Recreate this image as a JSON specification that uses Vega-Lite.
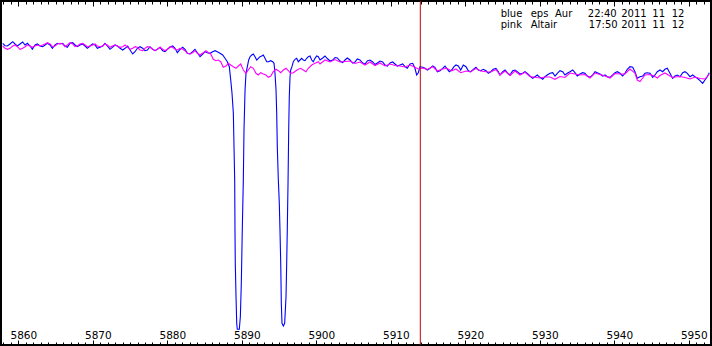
{
"$schema": "https://vega.github.io/schema/vega-lite/v6.json",
"width": 710, "height": 344, "autosize": "none", "padding": 1, "background": "white",
"config": {"view": {"stroke": "black", "strokeWidth": 2}, "axis": {"domain": false, "grid": false, "title": null}},
"datasets": {
"epsAur": [
{"w":5857.90,"f":301.7},{"w":5858.21,"f":299.3},{"w":5858.52,"f":299},{"w":5858.88,"f":301},{"w":5859.24,"f":303.3},{"w":5859.55,"f":301},{"w":5859.87,"f":299},{"w":5860.22,"f":301},{"w":5860.58,"f":303},{"w":5860.90,"f":300},
{"w":5861.21,"f":301.7},{"w":5861.57,"f":299},{"w":5861.88,"f":295.7},{"w":5862.24,"f":300},{"w":5862.55,"f":301},{"w":5862.91,"f":299},{"w":5863.27,"f":298.3},{"w":5863.58,"f":300},{"w":5863.89,"f":301.7},{"w":5864.25,"f":300},
{"w":5864.56,"f":296.7},{"w":5864.92,"f":300},{"w":5865.24,"f":301.7},{"w":5865.59,"f":301},{"w":5865.95,"f":301.7},{"w":5866.26,"f":299},{"w":5866.58,"f":297.7},{"w":5866.94,"f":301.7},{"w":5867.29,"f":302.3},{"w":5867.61,"f":300},
{"w":5867.92,"f":298.3},{"w":5868.28,"f":300},{"w":5868.64,"f":301},{"w":5868.95,"f":299},{"w":5869.26,"f":296.7},{"w":5869.62,"f":299},{"w":5869.98,"f":301},{"w":5870.29,"f":300},{"w":5870.60,"f":296.7},{"w":5870.96,"f":297.7},
{"w":5871.32,"f":299},{"w":5871.63,"f":301.7},{"w":5871.95,"f":299},{"w":5872.30,"f":295.7},{"w":5872.62,"f":297.7},{"w":5872.98,"f":300},{"w":5873.29,"f":299},{"w":5873.65,"f":296.7},{"w":5874.01,"f":295},{"w":5874.32,"f":296.7},
{"w":5874.68,"f":299},{"w":5874.99,"f":295},{"w":5875.35,"f":291},{"w":5875.66,"f":293.3},{"w":5875.97,"f":296.7},{"w":5876.33,"f":298.3},{"w":5876.69,"f":296.7},{"w":5877.00,"f":294.3},{"w":5877.32,"f":295},{"w":5877.67,"f":298.3},
{"w":5878.03,"f":295.7},{"w":5878.35,"f":294.3},{"w":5878.66,"f":295.7},{"w":5879.02,"f":297.7},{"w":5879.38,"f":294.3},{"w":5879.69,"f":293.3},{"w":5880.00,"f":295.7},{"w":5880.36,"f":297.7},{"w":5880.72,"f":299},{"w":5881.03,"f":296.7},
{"w":5881.34,"f":292.3},{"w":5881.70,"f":295.7},{"w":5882.06,"f":297.7},{"w":5882.37,"f":295.7},{"w":5882.69,"f":291.7},{"w":5883.04,"f":291},{"w":5883.40,"f":293.3},{"w":5883.71,"f":295.7},{"w":5884.03,"f":292.3},{"w":5884.39,"f":288.3},
{"w":5884.75,"f":291},{"w":5885.06,"f":293.3},{"w":5885.37,"f":292.3},{"w":5885.73,"f":291.7},{"w":5886.09,"f":293.3},{"w":5886.40,"f":294.3},{"w":5886.71,"f":293.3},{"w":5887.07,"f":291.7},{"w":5887.43,"f":290},{"w":5887.74,"f":286.7},
{"w":5888.05,"f":283.3},{"w":5888.32,"f":278.3},{"w":5888.51,"f":265},{"w":5888.68,"f":251.7},{"w":5888.86,"f":231.7},{"w":5888.95,"f":198.3},{"w":5889.04,"f":165},{"w":5889.08,"f":115},{"w":5889.12,"f":81.7},{"w":5889.22,"f":48.3},
{"w":5889.31,"f":21.7},{"w":5889.39,"f":15.7},{"w":5889.66,"f":15.7},{"w":5889.80,"f":28.3},{"w":5889.93,"f":61.7},{"w":5890.06,"f":115},{"w":5890.20,"f":165},{"w":5890.29,"f":215},{"w":5890.43,"f":255},{"w":5890.56,"f":271.7},
{"w":5890.74,"f":278.3},{"w":5890.92,"f":285},{"w":5891.10,"f":288.3},{"w":5891.33,"f":290},{"w":5891.54,"f":291},{"w":5891.77,"f":288.3},{"w":5892.00,"f":285},{"w":5892.21,"f":286.7},{"w":5892.44,"f":288.3},{"w":5892.67,"f":289},
{"w":5892.88,"f":290},{"w":5893.11,"f":286.7},{"w":5893.34,"f":283.3},{"w":5893.55,"f":283.3},{"w":5893.88,"f":284.3},{"w":5894.14,"f":283.3},{"w":5894.32,"f":281.7},{"w":5894.45,"f":271.7},{"w":5894.59,"f":255},{"w":5894.68,"f":231.7},
{"w":5894.76,"f":198.3},{"w":5894.90,"f":165},{"w":5895.03,"f":141.7},{"w":5895.12,"f":115},{"w":5895.22,"f":81.7},{"w":5895.30,"f":41.7},{"w":5895.39,"f":21.7},{"w":5895.57,"f":19},{"w":5895.75,"f":21.7},{"w":5895.93,"f":48.3},
{"w":5896.02,"f":81.7},{"w":5896.10,"f":115},{"w":5896.20,"f":161.7},{"w":5896.29,"f":215},{"w":5896.37,"f":248.3},{"w":5896.47,"f":268.3},{"w":5896.56,"f":275},{"w":5896.73,"f":278.3},{"w":5896.91,"f":283.3},{"w":5897.14,"f":285.7},
{"w":5897.36,"f":286.7},{"w":5897.58,"f":283.3},{"w":5897.81,"f":285},{"w":5898.04,"f":286.7},{"w":5898.25,"f":285},{"w":5898.48,"f":284.3},{"w":5898.71,"f":286.7},{"w":5898.92,"f":288.3},{"w":5899.15,"f":289},{"w":5899.38,"f":285},
{"w":5899.59,"f":283.3},{"w":5899.82,"f":286.7},{"w":5900.05,"f":289},{"w":5900.27,"f":288.3},{"w":5900.49,"f":285},{"w":5900.86,"f":287},{"w":5901.16,"f":289},{"w":5901.47,"f":286.5},{"w":5901.84,"f":284},{"w":5902.20,"f":285},
{"w":5902.51,"f":287.5},{"w":5902.82,"f":287},{"w":5903.18,"f":284},{"w":5903.54,"f":282.5},{"w":5903.85,"f":285},{"w":5904.16,"f":287},{"w":5904.52,"f":285},{"w":5904.88,"f":282},{"w":5905.19,"f":283},{"w":5905.50,"f":286},
{"w":5905.86,"f":285},{"w":5906.22,"f":282},{"w":5906.53,"f":281},{"w":5906.84,"f":284},{"w":5907.20,"f":285},{"w":5907.57,"f":283},{"w":5907.88,"f":280.5},{"w":5908.19,"f":282},{"w":5908.55,"f":284},{"w":5908.91,"f":283},
{"w":5909.22,"f":280},{"w":5909.53,"f":279},{"w":5909.89,"f":282},{"w":5910.25,"f":283},{"w":5910.56,"f":281},{"w":5910.87,"f":279},{"w":5911.23,"f":280},{"w":5911.59,"f":281},{"w":5911.90,"f":278.3},{"w":5912.21,"f":276.7},
{"w":5912.57,"f":281},{"w":5912.94,"f":281.7},{"w":5913.24,"f":276.7},{"w":5913.47,"f":270},{"w":5913.69,"f":272.3},{"w":5913.92,"f":278.3},{"w":5914.28,"f":277.7},{"w":5914.59,"f":276.7},{"w":5914.90,"f":275},{"w":5915.26,"f":276.7},
{"w":5915.62,"f":279},{"w":5915.93,"f":277.7},{"w":5916.24,"f":273.3},{"w":5916.60,"f":274.3},{"w":5916.96,"f":276.7},{"w":5917.27,"f":279},{"w":5917.50,"f":276.7},{"w":5917.85,"f":273.3},{"w":5918.17,"f":275},{"w":5918.48,"f":278.3},
{"w":5918.75,"f":280},{"w":5919.06,"f":279},{"w":5919.38,"f":275},{"w":5919.73,"f":280},{"w":5920.09,"f":278.3},{"w":5920.40,"f":274.3},{"w":5920.72,"f":273.3},{"w":5921.07,"f":275.7},{"w":5921.43,"f":277.7},{"w":5921.74,"f":275},
{"w":5922.06,"f":274.3},{"w":5922.41,"f":275.7},{"w":5922.78,"f":274.3},{"w":5923.08,"f":271.7},{"w":5923.41,"f":273.3},{"w":5923.75,"f":275.7},{"w":5924.12,"f":276.7},{"w":5924.43,"f":273.3},{"w":5924.65,"f":270},{"w":5925.02,"f":273.3},
{"w":5925.33,"f":275},{"w":5925.63,"f":272.3},{"w":5926.00,"f":270},{"w":5926.36,"f":274.3},{"w":5926.67,"f":275},{"w":5926.98,"f":273.3},{"w":5927.34,"f":271},{"w":5927.70,"f":271.7},{"w":5928.01,"f":273.3},{"w":5928.32,"f":271.7},
{"w":5928.68,"f":269},{"w":5929.04,"f":266.7},{"w":5929.35,"f":268.3},{"w":5929.66,"f":270},{"w":5930.02,"f":267.7},{"w":5930.39,"f":265.7},{"w":5930.69,"f":268.3},{"w":5931.00,"f":270},{"w":5931.37,"f":271.7},{"w":5931.73,"f":272.3},
{"w":5932.04,"f":269},{"w":5932.35,"f":271.7},{"w":5932.71,"f":274.3},{"w":5933.07,"f":273.3},{"w":5933.38,"f":270},{"w":5933.69,"f":271.7},{"w":5934.05,"f":273.3},{"w":5934.41,"f":275},{"w":5934.72,"f":272.3},{"w":5935.03,"f":269},
{"w":5935.39,"f":271},{"w":5935.75,"f":272.3},{"w":5936.06,"f":271.7},{"w":5936.37,"f":269},{"w":5936.73,"f":267.7},{"w":5937.10,"f":270},{"w":5937.41,"f":273.3},{"w":5937.71,"f":272.3},{"w":5938.08,"f":271},{"w":5938.44,"f":269},
{"w":5938.75,"f":270},{"w":5939.06,"f":268.3},{"w":5939.42,"f":267.7},{"w":5939.78,"f":270},{"w":5940.09,"f":272.3},{"w":5940.40,"f":273.3},{"w":5940.76,"f":271.7},{"w":5941.12,"f":269},{"w":5941.43,"f":271.7},{"w":5941.74,"f":275.7},
{"w":5942.10,"f":278.3},{"w":5942.47,"f":277.7},{"w":5942.77,"f":273.3},{"w":5943.08,"f":266.7},{"w":5943.45,"f":268.3},{"w":5943.81,"f":269},{"w":5944.12,"f":271.7},{"w":5944.43,"f":272.3},{"w":5944.79,"f":271.7},{"w":5945.15,"f":267.7},
{"w":5945.46,"f":270},{"w":5945.77,"f":273.3},{"w":5946.13,"f":275},{"w":5946.49,"f":273.3},{"w":5946.80,"f":275.7},{"w":5947.11,"f":276.7},{"w":5947.47,"f":271.7},{"w":5947.83,"f":266.7},{"w":5948.14,"f":269},{"w":5948.45,"f":270},
{"w":5948.82,"f":268.3},{"w":5949.18,"f":272.3},{"w":5949.49,"f":273.3},{"w":5949.80,"f":271.7},{"w":5950.16,"f":268.3},{"w":5950.52,"f":270},{"w":5950.83,"f":268.3},{"w":5951.14,"f":266.7},{"w":5951.50,"f":264.3},{"w":5951.86,"f":261.7},
{"w":5952.17,"f":265},{"w":5952.48,"f":268.3},{"w":5952.75,"f":272.3}
],
"altair": [
{"w":5857.90,"f":299},{"w":5858.21,"f":296.7},{"w":5858.52,"f":295.7},{"w":5858.88,"f":296.7},{"w":5859.24,"f":299},{"w":5859.55,"f":300},{"w":5859.87,"f":298.3},{"w":5860.22,"f":295.7},{"w":5860.58,"f":296.7},{"w":5860.90,"f":298.3},
{"w":5861.21,"f":300},{"w":5861.57,"f":299},{"w":5861.88,"f":297.7},{"w":5862.24,"f":299},{"w":5862.55,"f":300},{"w":5862.91,"f":299},{"w":5863.27,"f":300},{"w":5863.58,"f":301},{"w":5863.89,"f":302.3},{"w":5864.25,"f":301},
{"w":5864.56,"f":298.3},{"w":5864.92,"f":299},{"w":5865.24,"f":301},{"w":5865.59,"f":301.7},{"w":5865.95,"f":301},{"w":5866.26,"f":298.3},{"w":5866.58,"f":300},{"w":5866.94,"f":302.3},{"w":5867.29,"f":301},{"w":5867.61,"f":298.3},
{"w":5867.92,"f":299},{"w":5868.28,"f":301},{"w":5868.64,"f":301.7},{"w":5868.95,"f":300},{"w":5869.26,"f":298.3},{"w":5869.62,"f":299},{"w":5869.98,"f":300},{"w":5870.29,"f":301},{"w":5870.60,"f":299},{"w":5870.96,"f":298.3},
{"w":5871.32,"f":299},{"w":5871.63,"f":301},{"w":5871.95,"f":300},{"w":5872.30,"f":297.7},{"w":5872.62,"f":299},{"w":5872.98,"f":300},{"w":5873.29,"f":299},{"w":5873.65,"f":297.7},{"w":5874.01,"f":298.3},{"w":5874.32,"f":300},
{"w":5874.68,"f":297.7},{"w":5874.99,"f":295.7},{"w":5875.35,"f":296.7},{"w":5875.66,"f":298.3},{"w":5875.97,"f":297.7},{"w":5876.33,"f":295},{"w":5876.69,"f":294.3},{"w":5877.00,"f":296.7},{"w":5877.32,"f":298.3},{"w":5877.67,"f":297.7},
{"w":5878.03,"f":295.7},{"w":5878.35,"f":294.3},{"w":5878.66,"f":295.7},{"w":5879.02,"f":297.7},{"w":5879.38,"f":295.7},{"w":5879.69,"f":294.3},{"w":5880.00,"f":295.7},{"w":5880.36,"f":298.3},{"w":5880.72,"f":297.7},{"w":5881.03,"f":295.7},
{"w":5881.34,"f":295},{"w":5881.70,"f":296.7},{"w":5882.06,"f":295.7},{"w":5882.37,"f":294.3},{"w":5882.69,"f":291.7},{"w":5883.04,"f":291},{"w":5883.40,"f":292.3},{"w":5883.71,"f":294.3},{"w":5884.03,"f":291.7},{"w":5884.39,"f":290},
{"w":5884.83,"f":292.3},{"w":5885.19,"f":294.3},{"w":5885.50,"f":292.3},{"w":5885.82,"f":291},{"w":5886.17,"f":285.7},{"w":5886.53,"f":284.3},{"w":5886.84,"f":285},{"w":5887.16,"f":283.3},{"w":5887.51,"f":277.7},{"w":5887.88,"f":279},
{"w":5888.18,"f":281.7},{"w":5888.51,"f":280},{"w":5888.86,"f":278.3},{"w":5889.22,"f":276.7},{"w":5889.53,"f":279},{"w":5889.85,"f":281},{"w":5890.20,"f":275},{"w":5890.56,"f":271.7},{"w":5890.87,"f":275},{"w":5891.19,"f":278.3},
{"w":5891.54,"f":276.7},{"w":5891.90,"f":271.7},{"w":5892.21,"f":270},{"w":5892.53,"f":272.3},{"w":5892.88,"f":271},{"w":5893.24,"f":270},{"w":5893.55,"f":267.7},{"w":5893.88,"f":269},{"w":5894.22,"f":273.3},{"w":5894.59,"f":275.7},
{"w":5894.90,"f":274.3},{"w":5895.22,"f":272.3},{"w":5895.57,"f":275},{"w":5895.93,"f":276.7},{"w":5896.24,"f":274.3},{"w":5896.56,"f":271.7},{"w":5896.91,"f":272.3},{"w":5897.27,"f":274.3},{"w":5897.58,"f":275.7},{"w":5897.90,"f":276.7},
{"w":5898.25,"f":275},{"w":5898.61,"f":273.3},{"w":5898.92,"f":276.7},{"w":5899.38,"f":280},{"w":5899.82,"f":281.7},{"w":5900.27,"f":283.3},{"w":5900.49,"f":281},{"w":5901.16,"f":285},{"w":5901.84,"f":283},{"w":5902.51,"f":285.5},
{"w":5903.18,"f":283},{"w":5903.85,"f":283.5},{"w":5904.52,"f":284},{"w":5905.19,"f":281.5},{"w":5905.86,"f":283},{"w":5906.53,"f":280},{"w":5907.20,"f":283},{"w":5907.88,"f":279.5},{"w":5908.55,"f":282},{"w":5909.22,"f":279},
{"w":5909.89,"f":281},{"w":5910.56,"f":279.5},{"w":5911.23,"f":279},{"w":5911.90,"f":278},{"w":5912.57,"f":280},{"w":5913.24,"f":277.7},{"w":5913.69,"f":276},{"w":5914.28,"f":277},{"w":5914.90,"f":275.5},{"w":5915.62,"f":278.3},
{"w":5916.24,"f":274},{"w":5916.96,"f":276},{"w":5917.50,"f":276.7},{"w":5918.17,"f":274},{"w":5918.75,"f":276},{"w":5919.38,"f":272.3},{"w":5920.09,"f":274},{"w":5920.72,"f":273},{"w":5921.43,"f":276.7},{"w":5922.06,"f":274},
{"w":5922.78,"f":273.3},{"w":5923.41,"f":273},{"w":5924.12,"f":275.5},{"w":5924.65,"f":270},{"w":5925.33,"f":274},{"w":5926.00,"f":269.5},{"w":5926.67,"f":274},{"w":5927.34,"f":270},{"w":5928.01,"f":272.7},{"w":5928.68,"f":268.5},
{"w":5929.35,"f":267.7},{"w":5930.02,"f":267},{"w":5930.69,"f":268},{"w":5931.37,"f":268},{"w":5932.04,"f":265.7},{"w":5932.71,"f":268.5},{"w":5933.38,"f":267.5},{"w":5934.05,"f":272},{"w":5934.72,"f":271},{"w":5935.39,"f":270},
{"w":5936.06,"f":270.5},{"w":5936.73,"f":267},{"w":5937.41,"f":272},{"w":5938.08,"f":270.5},{"w":5938.75,"f":269},{"w":5939.42,"f":267},{"w":5940.09,"f":271.5},{"w":5940.76,"f":271},{"w":5941.43,"f":271},{"w":5942.10,"f":276},
{"w":5942.77,"f":272},{"w":5943.08,"f":265},{"w":5943.45,"f":263.5},{"w":5944.12,"f":270},{"w":5944.79,"f":270.5},{"w":5945.46,"f":268.5},{"w":5945.77,"f":267},{"w":5946.13,"f":269.5},{"w":5946.80,"f":272},{"w":5947.47,"f":269},
{"w":5947.83,"f":267.5},{"w":5948.14,"f":268},{"w":5948.82,"f":268.5},{"w":5949.49,"f":267.5},{"w":5950.16,"f":266},{"w":5950.83,"f":268},{"w":5951.50,"f":266.5},{"w":5952.17,"f":266},{"w":5952.75,"f":271}
],
"marker": [{"w": 5913.96}],
"legend": [
{"w":5924.75,"f":327.8,"t":"blue"},{"w":5928.77,"f":327.8,"t":"eps"},{"w":5932.04,"f":327.8,"t":"Aur"},{"w":5936.45,"f":327.8,"t":"22:40"},{"w":5940.93,"f":327.8,"t":"2011"},{"w":5945.10,"f":327.8,"t":"11"},{"w":5947.70,"f":327.8,"t":"12"},
{"w":5924.75,"f":316.8,"t":"pink"},{"w":5928.77,"f":316.8,"t":"Altair"},{"w":5936.58,"f":316.8,"t":"17:50"},{"w":5940.93,"f":316.8,"t":"2011"},{"w":5945.10,"f":316.8,"t":"11"},{"w":5947.70,"f":316.8,"t":"12"}
]
},
"layer": [
{"data": {"name": "epsAur"}, "mark": {"type": "line", "color": "#0000ff", "strokeWidth": 1.1},
 "encoding": {
  "x": {"field": "w", "type": "quantitative", "scale": {"domain": [5857.67, 5952.98], "nice": false, "zero": false},
   "axis": {"orient": "top", "offset": -344, "domain": false, "grid": false, "title": null,
    "values": [5858,5859,5860,5861,5862,5863,5864,5865,5866,5867,5868,5869,5870,5871,5872,5873,5874,5875,5876,5877,5878,5879,5880,5881,5882,5883,5884,5885,5886,5887,5888,5889,5890,5891,5892,5893,5894,5895,5896,5897,5898,5899,5900,5901,5902,5903,5904,5905,5906,5907,5908,5909,5910,5911,5912,5913,5914,5915,5916,5917,5918,5919,5920,5921,5922,5923,5924,5925,5926,5927,5928,5929,5930,5931,5932,5933,5934,5935,5936,5937,5938,5939,5940,5941,5942,5943,5944,5945,5946,5947,5948,5949,5950,5951,5952],
    "tickSize": {"condition": {"test": "datum.value % 10 === 0", "value": 5}, "value": 3},
    "tickColor": "black", "tickWidth": 1, "format": "d",
    "labelExpr": "datum.value % 10 === 0 ? datum.label : ''",
    "labelOverlap": false, "labelFlush": false, "labelFont": "DejaVu Sans", "labelFontSize": 10.5, "labelColor": "black",
    "labelBaseline": "alphabetic", "labelPadding": 2, "labelOffset": 5}},
  "y": {"field": "f", "type": "quantitative", "scale": {"domain": [0, 344], "nice": false, "zero": false}, "axis": null}
 }},
{"data": {"name": "altair"}, "mark": {"type": "line", "color": "#ff00ff", "strokeWidth": 1.1},
 "encoding": {
  "x": {"field": "w", "type": "quantitative", "scale": {"domain": [5857.67, 5952.98], "nice": false, "zero": false},
   "axis": {"orient": "bottom", "offset": -344, "domain": false, "grid": false, "title": null, "labels": false,
    "values": [5858,5859,5860,5861,5862,5863,5864,5865,5866,5867,5868,5869,5870,5871,5872,5873,5874,5875,5876,5877,5878,5879,5880,5881,5882,5883,5884,5885,5886,5887,5888,5889,5890,5891,5892,5893,5894,5895,5896,5897,5898,5899,5900,5901,5902,5903,5904,5905,5906,5907,5908,5909,5910,5911,5912,5913,5914,5915,5916,5917,5918,5919,5920,5921,5922,5923,5924,5925,5926,5927,5928,5929,5930,5931,5932,5933,5934,5935,5936,5937,5938,5939,5940,5941,5942,5943,5944,5945,5946,5947,5948,5949,5950,5951,5952],
    "tickSize": {"condition": {"test": "datum.value % 10 === 0", "value": 5}, "value": 3},
    "tickColor": "black", "tickWidth": 1}},
  "y": {"field": "f", "type": "quantitative", "scale": {"domain": [0, 344], "nice": false, "zero": false}, "axis": null}
 }},
{"data": {"name": "marker"}, "mark": {"type": "rule", "color": "#cc0000", "strokeWidth": 1},
 "encoding": {"x": {"field": "w", "type": "quantitative", "scale": {"domain": [5857.67, 5952.98], "nice": false, "zero": false}, "axis": null}}},
{"data": {"name": "legend"}, "mark": {"type": "text", "align": "left", "baseline": "alphabetic", "font": "DejaVu Sans", "fontSize": 10, "color": "black"},
 "encoding": {
  "x": {"field": "w", "type": "quantitative", "scale": {"domain": [5857.67, 5952.98], "nice": false, "zero": false}, "axis": null},
  "y": {"field": "f", "type": "quantitative", "scale": {"domain": [0, 344], "nice": false, "zero": false}, "axis": null},
  "text": {"field": "t"}
 }}
],
"resolve": {"axis": {"x": "independent"}}
}
